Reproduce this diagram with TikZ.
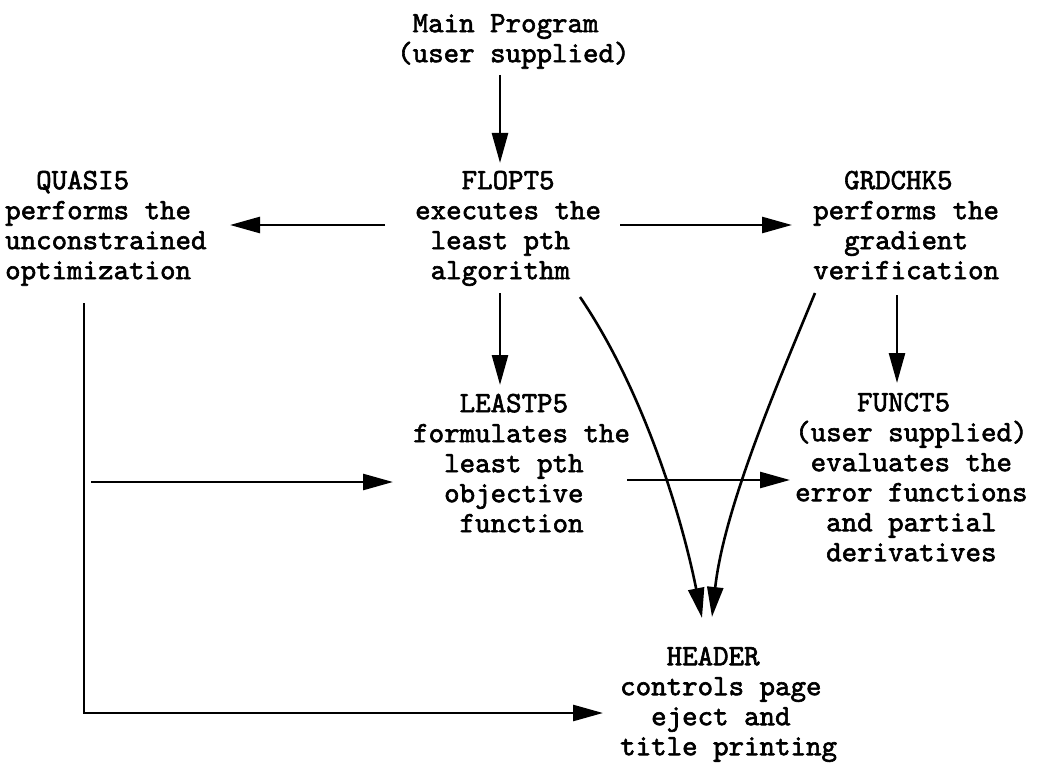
\documentclass[tikz,border=0pt]{standalone}
\usepackage{fontspec}
\usetikzlibrary{arrows.meta,calc}
\newfontfamily\typew[FakeBold=2]{lmmono10-regular.otf}
% strut fixing the top of every block 20pt above its first baseline
\newcommand\firstline{\rule{0pt}{20pt}}
\tikzset{
  block/.style={font=\typew\fontsize{29.5}{30}\selectfont, align=left,
    inner sep=0pt, anchor=north west},
  link/.style={line width=2.6pt},
  arrow/.style={link, -{Triangle[length=30pt,width=16pt]}}
}
\begin{document}
\begin{tikzpicture}[x=1pt,y=-1pt]
\useasboundingbox (0,0) rectangle (1042,765);

% program blocks
\node[block] (main)   at (397,12)  {\firstline\hphantom{X}Main Program\\(user supplied)};
\node[block] (flopt)  at (415,169) {\firstline\hphantom{XXX}FLOPT5\\executes the\\\hphantom{X}least pth\\\hphantom{X}algorithm};
\node[block] (quasi)  at (5,169)   {\firstline\hphantom{XX}QUASI5\\performs the\\unconstrained\\optimization};
\node[block] (grd)    at (813,169) {\firstline\hphantom{XX}GRDCHK5\\performs the\\\hphantom{XX}gradient\\verification};
\node[block] (leastp) at (413,392) {\firstline\hphantom{XXX}LEASTP5\\formulates the\\\hphantom{XX}least pth\\\hphantom{XX}objective\\\hphantom{XXX}function};
\node[block] (funct)  at (795,391) {\firstline\hphantom{XXXX}FUNCT5\\(user supplied)\\\hphantom{X}evaluates the\\error functions\\\hphantom{XX}and partial\\\hphantom{XX}derivatives};
\node[block] (header) at (620,645) {\firstline\hphantom{XXX}HEADER\\controls page\\\hphantom{XX}eject and\\title printing};

% calls
\draw[arrow] ($(main.north west)+(103,63)$) -- ($(flopt.north west)+(85,-6)$);
\draw[arrow] ($(flopt.north west)+(-30,56)$) -- ($(quasi.north west)+(225,56)$);
\draw[arrow] ($(flopt.north west)+(205,56)$) -- ($(grd.north west)+(-21,56)$);
\draw[arrow] ($(flopt.north west)+(85,124)$) -- ($(leastp.north west)+(87,-7)$);
\draw[arrow] ($(grd.north west)+(84,126)$) -- ($(funct.north west)+(102,-8)$);
\draw[arrow] ($(leastp.north west)+(214,88)$) -- ($(funct.north west)+(-5,89)$);

% QUASI5 feeds LEASTP5 and HEADER
\draw[arrow] ($(quasi.north west)+(79,134)$) |- ($(header.north west)+(-17,68)$);
\coordinate (branch) at ($(quasi.north west)+(86,313)$);
\draw[arrow] (branch) -- ($(leastp.north west)+(-20,90)$);

% FLOPT5 and GRDCHK5 both call HEADER
\draw[arrow] ($(flopt.north west)+(165,128)$) .. controls +(60,88) and +(-22,-110) .. ($(header.north west)+(82,-27)$);
\draw[arrow] ($(grd.north west)+(2,124)$) .. controls +(-35,85) and +(12,-110) .. ($(header.north west)+(92,-28)$);
\end{tikzpicture}
\end{document}
